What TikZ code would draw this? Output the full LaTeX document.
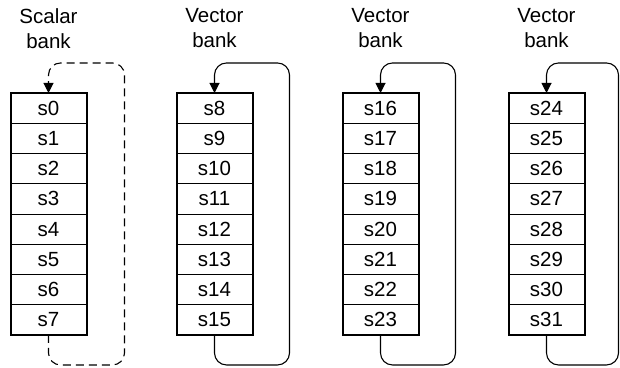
\documentclass[tikz,border=0pt]{standalone}
\usepackage{fontspec}
\setmainfont{Liberation Sans}
\usetikzlibrary{arrows.meta,positioning,calc}

\begin{document}
\begin{tikzpicture}[x=1pt,y=1pt,>={Triangle[length=10pt,width=10pt]},
    reg/.style={draw,line width=0.9pt,inner sep=0pt,outer sep=0pt,minimum width=76pt,minimum height=30.25pt,font=\fontsize{20.5}{24.5}\selectfont},
    hdr/.style={align=center,anchor=north,inner sep=0pt,font=\fontsize{20.5}{24.5}\selectfont},
    wrap/.style={->,line width=1.1pt,rounded corners=12pt},
    node distance=0pt]
    \useasboundingbox (0,0) rectangle (620,-367);
    % headers
    \node[hdr] (h0) at ( 48.5,-8.5) {Scalar\\bank};
    \node[hdr] (h1) at (214.5,-8.5) {Vector\\bank};
    \node[hdr] (h2) at (380.5,-8.5) {Vector\\bank};
    \node[hdr] (h3) at (546.5,-8.5) {Vector\\bank};
    % scalar bank
    \node[reg] (s0) at (48.5,-108.1) {s0};
    \node[reg,below=of s0] (s1) {s1};
    \node[reg,below=of s1] (s2) {s2};
    \node[reg,below=of s2] (s3) {s3};
    \node[reg,below=of s3] (s4) {s4};
    \node[reg,below=of s4] (s5) {s5};
    \node[reg,below=of s5] (s6) {s6};
    \node[reg,below=of s6] (s7) {s7};
    % vector bank 1
    \node[reg] (s8) at (214.5,-108.1) {s8};
    \node[reg,below=of s8] (s9) {s9};
    \node[reg,below=of s9] (s10) {s10};
    \node[reg,below=of s10] (s11) {s11};
    \node[reg,below=of s11] (s12) {s12};
    \node[reg,below=of s12] (s13) {s13};
    \node[reg,below=of s13] (s14) {s14};
    \node[reg,below=of s14] (s15) {s15};
    % vector bank 2
    \node[reg] (s16) at (380.5,-108.1) {s16};
    \node[reg,below=of s16] (s17) {s17};
    \node[reg,below=of s17] (s18) {s18};
    \node[reg,below=of s18] (s19) {s19};
    \node[reg,below=of s19] (s20) {s20};
    \node[reg,below=of s20] (s21) {s21};
    \node[reg,below=of s21] (s22) {s22};
    \node[reg,below=of s22] (s23) {s23};
    % vector bank 3
    \node[reg] (s24) at (546.5,-108.1) {s24};
    \node[reg,below=of s24] (s25) {s25};
    \node[reg,below=of s25] (s26) {s26};
    \node[reg,below=of s26] (s27) {s27};
    \node[reg,below=of s27] (s28) {s28};
    \node[reg,below=of s28] (s29) {s29};
    \node[reg,below=of s29] (s30) {s30};
    \node[reg,below=of s30] (s31) {s31};
    % thick outlines
    \draw[line width=2pt] (s0.north west) rectangle (s7.south east);
    \draw[line width=2pt] (s8.north west) rectangle (s15.south east);
    \draw[line width=2pt] (s16.north west) rectangle (s23.south east);
    \draw[line width=2pt] (s24.north west) rectangle (s31.south east);
    % wrap-around
    \draw[wrap,dash pattern=on 8pt off 5pt] (s7.south) |- ($(s7.south east)+(38,-30)$) |- ($(s0.north)+(0,30)$) -- (s0.north);
    \draw[wrap] (s15.south) |- ($(s15.south east)+(37,-30)$) |- ($(s8.north)+(0,30)$) -- (s8.north);
    \draw[wrap] (s23.south) |- ($(s23.south east)+(37,-30)$) |- ($(s16.north)+(0,30)$) -- (s16.north);
    \draw[wrap] (s31.south) |- ($(s31.south east)+(34,-30)$) |- ($(s24.north)+(0,30)$) -- (s24.north);
\end{tikzpicture}
\end{document}
